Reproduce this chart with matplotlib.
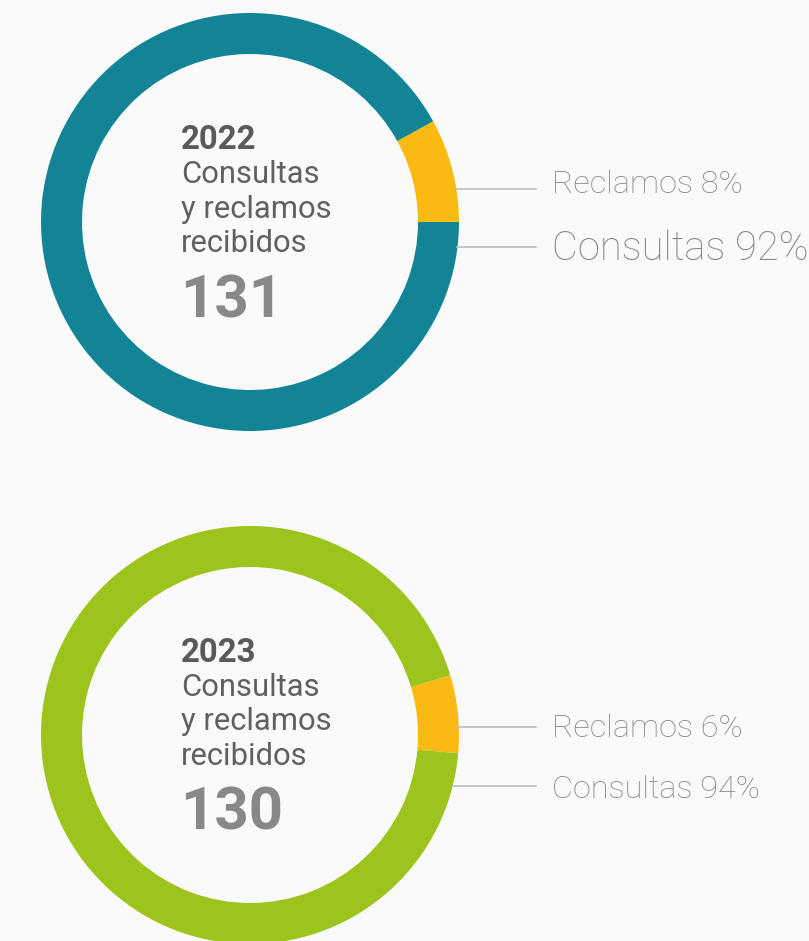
import matplotlib.pyplot as plt

# data
years = ["2022", "2023"]
totals = [131, 130]
reclamos_pct = [8, 6]
consultas_pct = [92, 94]
ring_colors = ["#138396", "#9dc41c"]
yellow = "#fbba12"
bg = "#fafafa"

plt.rcParams['font.family'] = ['Roboto', 'DejaVu Sans']

W, H = 809, 941
fig = plt.figure(figsize=(W / 100, H / 100), dpi=100, facecolor=bg)
ax = fig.add_axes([0, 0, 1, 1])
ax.set_facecolor(bg)

def fs(px):
    # pixel font height -> points
    return px * 72 / 100

centers = [(250, H - 222), (250, H - 735)]
starts = [0, -5]
# leader line y, label baseline (pixel rows from top) and label sizes
lead_y = [(189, 247), (727, 786)]
base_y = [(193, 260), (737, 798)]
lead_x0 = [(457, 457), (457, 452)]
lab_size = [(32.5, 40), (32.5, 32.5)]

for i in range(2):
    cx, cy = centers[i]
    ax.pie([reclamos_pct[i], consultas_pct[i]], colors=[yellow, ring_colors[i]],
           startangle=starts[i], counterclock=True, center=(cx, cy), radius=209,
           wedgeprops=dict(width=41, edgecolor='none'), frame=True)

    top = H - centers[i][1]
    x0 = 181
    ax.text(x0, H - (top - 73), years[i], fontsize=fs(33), fontweight='bold',
            color='#5a5a5a', ha='left', va='baseline')
    for k, line in enumerate(["Consultas", "y reclamos", "recibidos"]):
        ax.text(x0, H - (top - 39 + 34.5 * k), line, fontsize=fs(31),
                fontweight='normal', color='#606060', ha='left', va='baseline')
    ax.text(x0 - 1, H - (top + 95), str(totals[i]), fontsize=fs(60),
            fontweight='bold', color='#888888', ha='left', va='baseline')

    labels = [f"Reclamos {reclamos_pct[i]}%", f"Consultas {consultas_pct[i]}%"]
    for k in range(2):
        ly = H - lead_y[i][k]
        ax.plot([lead_x0[i][k], 536], [ly, ly], color='#bdbdbd', lw=1.2)
        ax.text(552, H - base_y[i][k], labels[k], fontsize=fs(lab_size[i][k]),
                fontweight='light', color='#858585', ha='left', va='baseline')

ax.set_xlim(0, W)
ax.set_ylim(0, H)
ax.set_aspect('equal')
ax.axis('off')
fig.savefig('out.png', dpi=100, facecolor=bg)
